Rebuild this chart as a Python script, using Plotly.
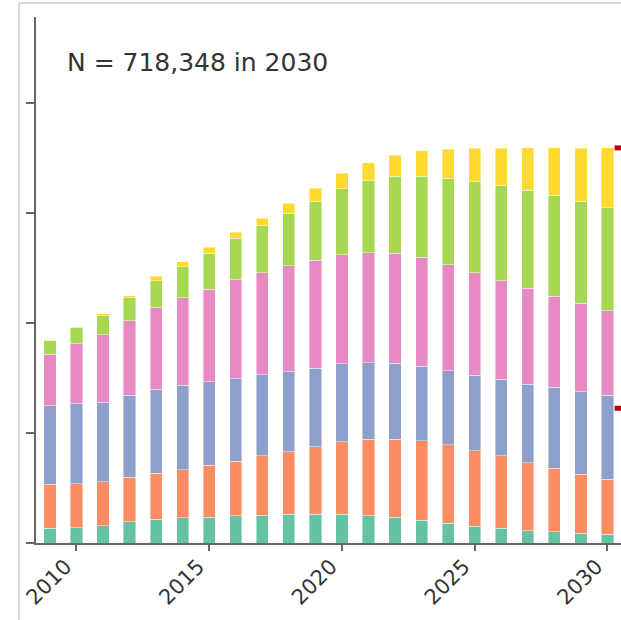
import plotly.graph_objects as go

years = list(range(2009, 2031))

# values in persons, bottom to top
teal = [26700, 27800, 31500, 38700, 43100, 45800, 46700, 49600, 50900, 52200, 52200,
        52700, 49600, 46700, 41800, 35800, 30900, 26700, 22400, 20500, 17600, 15800]
orange = [80500, 79500, 80000, 80700, 83600, 87600, 95100, 99500, 107300, 113800, 122900,
          131500, 138900, 142400, 144200, 142400, 136900, 131500, 123600, 115300, 107800, 100000]
blue = [142400, 145500, 144400, 149600, 152700, 153800, 151500, 149100, 147300, 145500, 142500,
        141300, 139300, 137600, 135800, 135100, 137600, 139500, 143100, 147300, 149600, 153300]
pink = [94000, 109100, 122400, 135100, 148400, 158500, 168000, 180000, 186000, 192200, 196900,
        198200, 200000, 200000, 197600, 192200, 186000, 179300, 174000, 166000, 160700, 153300]
green = [24200, 30400, 34500, 41800, 49100, 56400, 65500, 75800, 84900, 95800, 106000,
         120000, 130900, 140500, 147800, 157600, 165500, 172200, 178700, 183600, 186000, 187300]
yellow = [1000, 1300, 3600, 3600, 8500, 9600, 10900, 10900, 14000, 18200, 24400,
          28500, 32700, 38200, 46000, 52700, 60700, 68500, 76900, 86000, 95800, 109248]

series = [
    ("Group 1", teal, "#66c2a5"),
    ("Group 2", orange, "#fc8d62"),
    ("Group 3", blue, "#8da0cb"),
    ("Group 4", pink, "#e78ac3"),
    ("Group 5", green, "#a6d854"),
    ("Group 6", yellow, "#ffd92f"),
]

x_ticks = [2010, 2015, 2020, 2025, 2030]
y_ticks = [0, 200000, 400000, 600000, 800000]
red_marks = [718348, 245000]
total_2030 = "718,348"

fig = go.Figure()
for name, vals, col in series:
    fig.add_trace(go.Bar(
        x=years, y=vals, name=name, width=0.46,
        marker=dict(color=col, line=dict(color="rgba(255,255,255,0.7)", width=0.6)),
    ))

for v in red_marks:
    fig.add_shape(type="line", xref="x", yref="y", x0=2030.27, x1=2030.7, y0=v, y1=v,
                  line=dict(color="#c00000", width=5))

# light frame around the picture
fig.add_shape(type="rect", xref="paper", yref="paper",
              x0=(19 - 36) / 585, x1=1.05, y0=-0.3, y1=(543 - 3) / 526,
              line=dict(color="#cccccc", width=1.5), fillcolor="rgba(0,0,0,0)", layer="below")

fig.add_annotation(
    text=f"N = {total_2030} in 2030", xref="paper", yref="paper",
    x=(65 - 36) / 585, y=(543 - 62) / 526, xanchor="left", yanchor="middle",
    showarrow=False, font=dict(family="DejaVu Sans", size=25, color="#333333"),
)

fig.update_layout(
    width=621, height=620, barmode="stack", showlegend=False,
    margin=dict(l=36, r=0, t=17, b=77),
    plot_bgcolor="white", paper_bgcolor="white",
    font=dict(family="DejaVu Sans", color="#333333"),
    xaxis=dict(range=[2008.475, 2030.51], tickvals=x_ticks, ticktext=[str(t) for t in x_ticks],
               tickangle=-45, ticks="outside", ticklen=6, tickwidth=2, tickcolor="#666666",
               ticklabelshift=-11, ticklabelstandoff=-5,
               showline=True, linecolor="#666666", linewidth=2, showgrid=False, zeroline=False,
               tickfont=dict(family="DejaVu Sans", size=21, color="#333333")),
    yaxis=dict(range=[0, 956364], tickvals=y_ticks, showticklabels=False, ticks="outside",
               ticklen=8, tickwidth=2, tickcolor="#666666",
               showline=True, linecolor="#666666", linewidth=2, showgrid=False, zeroline=False),
)

fig.write_html("out.html")
